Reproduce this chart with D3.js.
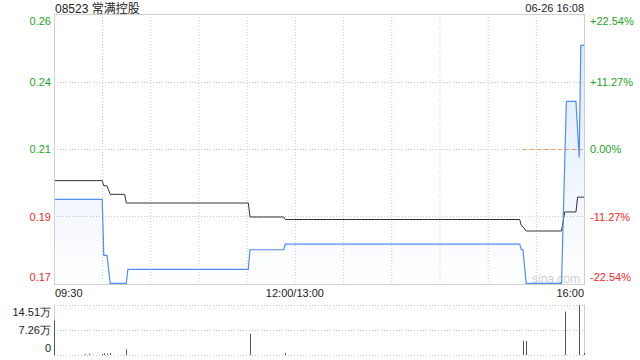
<!DOCTYPE html>
<html>
<head>
<meta charset="utf-8">
<style>
body { margin: 0; background: #fff; }
svg { font-family: "Liberation Sans", Arial, sans-serif; }
.title { font-family: "Liberation Sans", "Noto Sans CJK SC", sans-serif; font-size: 12px; fill: #222; }
.lbl { font-size: 11px; }
.up { fill: #1ea31e; }
.down { fill: #f02a2a; }
.flat { fill: #1ea31e; }
.grid { stroke: #c8c8c8; stroke-dasharray: 1,2; fill: none; }
.border { stroke: #cfcfcf; fill: none; }
.price { fill: none; stroke: #4f8ef5; stroke-width: 1.2; }
.avg { fill: none; stroke: #333; stroke-width: 1; }
.vol { stroke: #555; stroke-width: 1; }
</style>
</head>
<body>
<svg width="640" height="360"></svg>
<script src="https://cdn.jsdelivr.net/npm/d3@7"></script>
<script>

var title = "08523 常满控股"
var stamp = "06-26 16:08"
var prevClose = 0.214
var pctTicks = [0.2254, 0.1127, 0, -0.1127, -0.2254]
var timeLabels = ["09:30", "12:00/13:00", "16:00"]

// last price, minute by minute where it changes
var priceTimes = ["09:30","10:00","10:01","10:03","10:05","10:15","10:16","11:31","11:32","11:53","11:54",
  "15:20","15:21","15:22","15:24","15:46","15:49","15:55","15:57","15:58","16:00"]
var priceValues = [0.196,0.196,0.176,0.176,0.166,0.166,0.171,0.171,0.178,0.178,0.180,
  0.180,0.178,0.178,0.166,0.166,0.231,0.231,0.211,0.251,0.251]

// average price
var avgTimes = ["09:30","10:00","10:01","10:03","10:05","10:14","10:15","11:31","11:32","11:53","11:54",
  "15:20","15:21","15:22","15:24","15:46","15:48","15:55","15:56","16:00"]
var avgValues = [0.2027,0.2027,0.2009,0.2008,0.1978,0.1978,0.1947,0.1947,0.1897,0.1897,0.1888,
  0.1888,0.1866,0.1862,0.1847,0.1847,0.1915,0.1915,0.1968,0.1968]

// volume in 万 shares
var volTimes = ["09:30","09:49","09:52","10:00","10:01","10:03","10:05","10:15","11:32","11:54","15:22","15:24","15:48","15:57","16:00"]
var volValues = [9.9,0.3,0.4,0.3,0.5,0.4,0.6,1.6,6.2,0.6,4.1,4.1,12.6,14.51,0.6]
var volTicks = [14.51, 7.26, 0]
var volTickLabels = ["14.51万", "7.26万", "0"]

// turn "HH:MM" into trading minute (lunch break removed)
var toMin = function(s) {
  var p = s.split(":"), t = +p[0]*60 + +p[1]
  if (t <= 720) return t - 570
  return t - 780 + 150
}

var svg = d3.select("svg")
var left = 54, right = 584
var top1 = 14, bot1 = 284
var top2 = 305, bot2 = 355

var x = d3.scaleLinear().domain([0, 330]).range([left, right])
var y = d3.scaleLinear()
  .domain([prevClose*(1-0.2254), prevClose*(1+0.2254)])
  .range([bot1, top1])
var yv = d3.scaleLinear().domain([0, volTicks[0]]).range([bot2, top2])

var price = priceTimes.map(function(t, i) { return {m: toMin(t), v: priceValues[i]} })
var avg = avgTimes.map(function(t, i) { return {m: toMin(t), v: avgValues[i]} })
var vol = volTimes.map(function(t, i) { return {m: toMin(t), v: volValues[i]} })

// gradient under the price line
var grad = svg.append("defs").append("linearGradient")
  .attr("id", "fillg")
  .attr("gradientUnits", "userSpaceOnUse")
  .attr("x1", 0).attr("y1", top1).attr("x2", 0).attr("y2", bot1)
grad.append("stop").attr("offset", 0).attr("stop-color", "#4f8ef5").attr("stop-opacity", 0.22)
grad.append("stop").attr("offset", 1).attr("stop-color", "#4f8ef5").attr("stop-opacity", 0.0)

// vertical grid every 30 min
svg.append("g").selectAll("line")
  .data(d3.range(30, 330, 30))
  .enter().append("line")
  .attr("class", "grid")
  .attr("x1", function(d) { return x(d) + 0.5 })
  .attr("x2", function(d) { return x(d) + 0.5 })
  .attr("y1", top1).attr("y2", bot1)

// horizontal grid
svg.append("g").selectAll("line")
  .data(pctTicks.slice(1, 4))
  .enter().append("line")
  .attr("class", "grid")
  .attr("x1", left).attr("x2", right)
  .attr("y1", function(d) { return Math.round(y(prevClose*(1+d))) + 0.5 })
  .attr("y2", function(d) { return Math.round(y(prevClose*(1+d))) + 0.5 })

// prev close marker
svg.append("line")
  .attr("x1", x(toMin("15:22"))).attr("x2", right)
  .attr("y1", Math.round(y(prevClose)) + 0.5).attr("y2", Math.round(y(prevClose)) + 0.5)
  .attr("stroke", "#f39a66").attr("stroke-dasharray", "4,3")

// area + lines
svg.append("path")
  .datum(price)
  .attr("fill", "url(#fillg)")
  .attr("d", d3.area().x(function(d) { return x(d.m) }).y0(bot1).y1(function(d) { return y(d.v) }))

svg.append("text")
  .attr("x", 532).attr("y", 283)
  .attr("font-size", 12).attr("fill", "#d0d0d0")
  .text("sina.com")

svg.append("path")
  .datum(avg)
  .attr("class", "avg")
  .attr("d", d3.line().x(function(d) { return x(d.m) }).y(function(d) { return y(d.v) }))

svg.append("path")
  .datum(price)
  .attr("class", "price")
  .attr("d", d3.line().x(function(d) { return x(d.m) }).y(function(d) { return y(d.v) }))

// frame
svg.append("rect")
  .attr("class", "border")
  .attr("x", left + 0.5).attr("y", top1 + 0.5)
  .attr("width", right - left).attr("height", bot1 - top1)

// y labels both sides
var cls = function(d) { return d > 0 ? "lbl up" : (d < 0 ? "lbl down" : "lbl flat") }
var ly = function(d, i) {
  var yy = y(prevClose*(1+d)) + 4
  if (i == 0) yy += 7
  if (i == pctTicks.length-1) yy -= 7
  return yy
}
svg.append("g").selectAll("text")
  .data(pctTicks)
  .enter().append("text")
  .attr("class", cls)
  .attr("x", 51).attr("y", ly)
  .attr("text-anchor", "end")
  .text(function(d) { return (prevClose*(1+d)).toFixed(2) })

svg.append("g").selectAll("text")
  .data(pctTicks)
  .enter().append("text")
  .attr("class", cls)
  .attr("x", 590).attr("y", ly)
  .text(function(d) { return (d > 0 ? "+" : "") + (d*100).toFixed(2) + "%" })

// x labels
svg.append("g").selectAll("text")
  .data(timeLabels)
  .enter().append("text")
  .attr("class", "lbl")
  .attr("fill", "#222")
  .attr("y", 297)
  .attr("x", function(d, i) { return i == 0 ? x(0) + 1 : (i == 1 ? x(150) : x(330)) })
  .attr("text-anchor", function(d, i) { return ["start", "middle", "end"][i] })
  .text(function(d) { return d })

svg.append("text").attr("class", "title").attr("x", 55).attr("y", 13).text(title)
svg.append("text").attr("class", "lbl").attr("fill", "#222")
  .attr("x", right).attr("y", 12).attr("text-anchor", "end").text(stamp)

// volume panel
svg.append("line").attr("class", "border").attr("x1", left + 0.5).attr("x2", left + 0.5).attr("y1", top2).attr("y2", bot2)
svg.append("line").attr("class", "border").attr("x1", right + 0.5).attr("x2", right + 0.5).attr("y1", top2).attr("y2", bot2)
svg.append("g").selectAll("line")
  .data(volTicks)
  .enter().append("line")
  .attr("class", "grid")
  .attr("x1", left).attr("x2", right)
  .attr("y1", function(d) { return Math.round(yv(d)) + 0.5 })
  .attr("y2", function(d) { return Math.round(yv(d)) + 0.5 })

svg.append("g").selectAll("line")
  .data(vol)
  .enter().append("line")
  .attr("class", "vol")
  .attr("x1", function(d) { return Math.round(x(d.m)) + 0.5 })
  .attr("x2", function(d) { return Math.round(x(d.m)) + 0.5 })
  .attr("y1", bot2)
  .attr("y2", function(d) { return yv(d.v) })

svg.append("g").selectAll("text")
  .data(volTicks)
  .enter().append("text")
  .attr("class", "lbl")
  .attr("fill", "#222")
  .attr("x", 51)
  .attr("text-anchor", "end")
  .attr("y", function(d, i) { return [yv(d) + 11, yv(d) + 4, yv(d) - 3][i] })
  .text(function(d, i) { return volTickLabels[i] })

</script>
</body>
</html>
